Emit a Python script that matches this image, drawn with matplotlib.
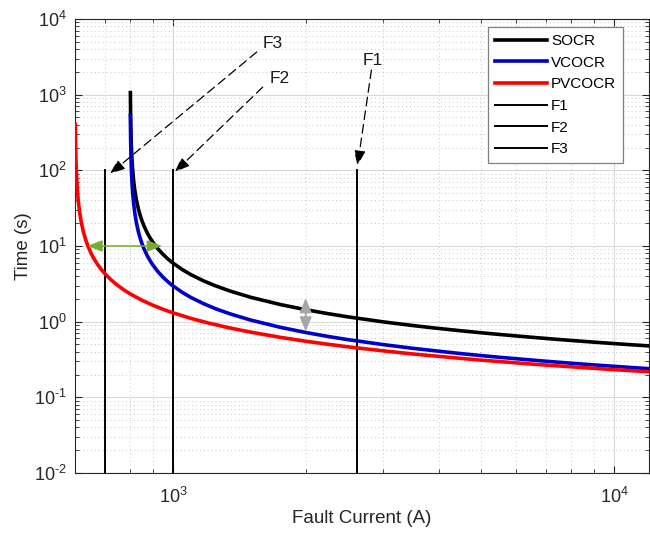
import math
import matplotlib
matplotlib.use("Agg")
import matplotlib.pyplot as plt
from matplotlib.ticker import LogLocator, NullFormatter, FuncFormatter

plt.rcParams['font.family'] = ['Liberation Sans', 'DejaVu Sans']
plt.rcParams['axes.unicode_minus'] = False
plt.rcParams['mathtext.fontset'] = 'custom'
plt.rcParams['mathtext.rm'] = 'Liberation Sans'
plt.rcParams['mathtext.it'] = 'Liberation Sans:italic'
plt.rcParams['mathtext.bf'] = 'Liberation Sans:bold'

# Data
socr_I = [801, 802, 803, 805, 807, 810, 815, 820, 827, 835,
          842, 850, 860, 875, 888, 900, 925, 950, 975, 1000,
          1050, 1100, 1175, 1250, 1350, 1500, 1750, 2000, 2250, 2500,
          3000, 3500, 4000, 4500, 5000, 5500, 6500, 7000, 8000, 9000,
          10000, 11000, 12000]
socr_t = [1064.7, 532.7, 355.3, 213.5, 152.6, 107.0, 71.58, 53.85, 40.06, 31.05,
          25.98, 21.93, 18.38, 14.83, 12.73, 11.28, 9.15, 7.73, 6.71, 5.95,
          4.88, 4.16, 3.447, 2.97, 2.529, 2.10, 1.686, 1.438, 1.273, 1.154,
          0.993, 0.888, 0.813, 0.757, 0.713, 0.677, 0.622, 0.600, 0.564, 0.536,
          0.513, 0.494, 0.478]
vcocr_I = socr_I
vcocr_t = [532.3, 266.3, 177.7, 106.7, 76.3, 53.5, 35.79, 26.92, 20.03, 15.52,
           12.99, 10.96, 9.19, 7.41, 6.37, 5.64, 4.57, 3.86, 3.355, 2.97,
           2.44, 2.08, 1.723, 1.48, 1.264, 1.05, 0.843, 0.719, 0.636, 0.577,
           0.497, 0.444, 0.407, 0.378, 0.356, 0.338, 0.311, 0.300, 0.282, 0.268,
           0.257, 0.247, 0.239]
pvcocr_I = [601, 602, 603, 605, 607, 610, 615, 620, 627, 635,
            642, 650, 660, 675, 690, 700, 725, 750, 775, 800,
            850, 900, 950, 1000, 1100, 1200, 1350, 1500, 1750, 2000,
            2250, 2500, 3000, 3500, 4000, 4500, 5000, 5500, 6500, 7000,
            8000, 9000, 10000, 11000, 12000]
pvcocr_t = [403.5, 201.9, 134.7, 80.97, 57.93, 40.65, 27.21, 20.49, 15.26, 11.85,
            9.93, 8.39, 7.04, 5.70, 4.80, 4.35, 3.544, 3.005, 2.619, 2.329,
            1.923, 1.651, 1.456, 1.309, 1.102, 0.963, 0.822, 0.727, 0.621, 0.551,
            0.502, 0.464, 0.411, 0.374, 0.348, 0.327, 0.310, 0.297, 0.275, 0.267,
            0.253, 0.2415, 0.232, 0.2244, 0.218]
fault_names = ['F1', 'F2', 'F3']
fault_I = [2620, 1000, 700]
fault_t = [0.01, 100]

# annotation positions (text, tail, tip)
ann_text = {'F3': (1684, 4810), 'F2': (1746, 1655), 'F1': (2832, 2865)}
ann_tail = {'F3': (1549, 3656), 'F2': (1598, 1257), 'F1': (2818, 2113)}
ann_tip = {'F3': (720, 90), 'F2': (1010, 95), 'F1': (2621, 116)}

green_arrow = ((640, 10), (945, 10))
gray_arrow = ((2000, 2.05), (2000, 0.74))

fig = plt.figure(figsize=(6.5, 5.33), dpi=100)
ax = fig.add_axes([0.1154, 0.1126, 0.8831, 0.8518])

ax.set_xscale('log')
ax.set_yscale('log')

ax.plot(socr_I, socr_t, color='black', lw=2.6, label='SOCR', zorder=4)
ax.plot(vcocr_I, vcocr_t, color='#0000C8', lw=2.6, label='VCOCR', zorder=4)
ax.plot(pvcocr_I, pvcocr_t, color='#FF0000', lw=2.6, label='PVCOCR', zorder=4)
for name, xi in zip(fault_names, fault_I):
    ax.plot([xi, xi], fault_t, color='black', lw=1.4, label=name, zorder=3)

ax.set_xlim(600, 12000)
ax.set_ylim(1e-2, 1e4)

for name in ['F3', 'F2', 'F1']:
    ax.annotate('', xy=ann_tip[name], xytext=ann_tail[name],
                arrowprops=dict(arrowstyle='-|>,head_length=0.9,head_width=0.35',
                                linestyle=(0, (7, 4)), color='black', lw=0.9,
                                shrinkA=0, shrinkB=0), zorder=5)
    ax.text(*ann_text[name], name, fontsize=12.5, ha='center', va='center',
            color='#1a1a1a')

ax.annotate('', xy=green_arrow[0], xytext=green_arrow[1],
            arrowprops=dict(arrowstyle='<|-|>,head_length=0.9,head_width=0.35',
                            color='#77AC30', lw=1.1, shrinkA=0, shrinkB=0), zorder=6)
ax.annotate('', xy=gray_arrow[0], xytext=gray_arrow[1],
            arrowprops=dict(arrowstyle='<|-|>,head_length=0.85,head_width=0.35',
                            color='#A6A6A6', lw=1.4, shrinkA=0, shrinkB=0), zorder=6)


def pow_label(v, pos):
    e = int(round(math.log10(v)))
    if e < 0:
        return r'$10^{\text{-}%d}$' % (-e)
    return r'$10^{%d}$' % e


ax.xaxis.set_major_locator(LogLocator(base=10, numticks=10))
ax.xaxis.set_minor_locator(LogLocator(base=10, subs=range(2, 10), numticks=20))
ax.yaxis.set_major_locator(LogLocator(base=10, numticks=10))
ax.yaxis.set_minor_locator(LogLocator(base=10, subs=range(2, 10), numticks=20))
ax.xaxis.set_major_formatter(FuncFormatter(pow_label))
ax.yaxis.set_major_formatter(FuncFormatter(pow_label))
ax.xaxis.set_minor_formatter(NullFormatter())
ax.yaxis.set_minor_formatter(NullFormatter())
ax.xaxis.get_offset_text().set_visible(False)
ax.yaxis.get_offset_text().set_visible(False)

ax.grid(True, which='major', color='#D9D9D9', lw=0.8, ls='-')
ax.grid(True, which='minor', color='#C8C8C8', lw=0.7, ls=(0, (1, 3)))
ax.set_axisbelow(True)

ax.tick_params(which='both', direction='in', top=True, right=True, colors='#262626',
               labelsize=13, labelcolor='#262626')
ax.tick_params(which='major', length=5)
ax.tick_params(which='minor', length=3)
ax.tick_params(axis='x', which='major', pad=10)
ax.tick_params(axis='y', which='major', pad=6)
for s in ax.spines.values():
    s.set_color('#262626')
    s.set_linewidth(0.8)

ax.set_xlabel('Fault Current (A)', fontsize=13.5, color='#262626', labelpad=2)
ax.set_ylabel('Time (s)', fontsize=13.5, color='#262626', labelpad=1)

leg = ax.legend(loc='upper right', bbox_to_anchor=(0.955, 0.982), fontsize=11,
                handlelength=3.4, labelspacing=0.5, handletextpad=0.3,
                borderpad=0.45, borderaxespad=0, fancybox=False, framealpha=1,
                edgecolor='#808080')
leg.get_frame().set_linewidth(0.9)

fig.savefig('out.png', dpi=100)
